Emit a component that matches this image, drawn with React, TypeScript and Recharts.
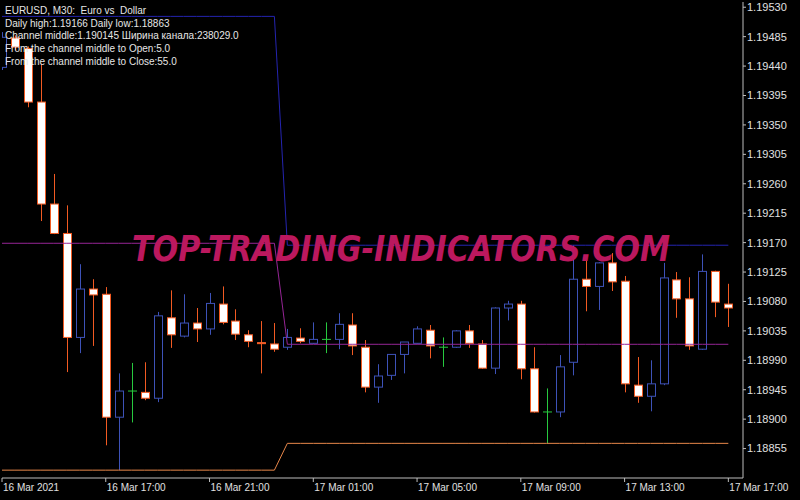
import { Bar, ComposedChart, Line, XAxis, YAxis } from 'recharts';

// EURUSD M30, bars from 16 Mar 13:00 to 17 Mar 17:00 (57 bars)
const opens = [
  1.19438, 1.19483, 1.19467, 1.19385, 1.19229, 1.19184, 1.19025, 1.19099, 1.19091, 1.18903,
  1.18943, 1.18941, 1.18932, 1.19055, 1.19027, 1.19047, 1.19038, 1.19076, 1.19050, 1.19029,
  1.19017, 1.19015, 1.19010, 1.19024, 1.19016, 1.19022, 1.19022, 1.19044, 1.19010, 1.18949,
  1.18967, 1.18999, 1.19016, 1.19036, 1.19010, 1.19010, 1.19035, 1.19015, 1.18978, 1.19070,
  1.19076, 1.18977, 1.18911, 1.18911, 1.18987, 1.19114, 1.19103, 1.19139, 1.19111, 1.18952,
  1.18935, 1.18954, 1.19113, 1.19084, 1.19007, 1.19126, 1.19076,
];
const highs = [
  1.19492, 1.19487, 1.19470, 1.19444, 1.19275, 1.19227, 1.19137, 1.19114, 1.19102, 1.18970,
  1.18986, 1.18987, 1.19064, 1.19097, 1.19091, 1.19070, 1.19093, 1.19103, 1.19068, 1.19036,
  1.19050, 1.19047, 1.19038, 1.19039, 1.19048, 1.19048, 1.19062, 1.19062, 1.19021, 1.18984,
  1.18999, 1.19018, 1.19042, 1.19044, 1.19025, 1.19036, 1.19044, 1.19021, 1.19071, 1.19081,
  1.19081, 1.19010, 1.18947, 1.18998, 1.19166, 1.19142, 1.19140, 1.19154, 1.19119, 1.18995,
  1.18990, 1.19139, 1.19125, 1.19117, 1.19152, 1.19127, 1.19107,
];
const lows = [
  1.19434, 1.19464, 1.19377, 1.19203, 1.19183, 1.18972, 1.19001, 1.19012, 1.18860, 1.18822,
  1.18895, 1.18929, 1.18926, 1.19009, 1.19025, 1.19018, 1.19029, 1.19045, 1.19021, 1.19010,
  1.18970, 1.19003, 1.19006, 1.19016, 1.19015, 1.19001, 1.19007, 1.18998, 1.18941, 1.18925,
  1.18960, 1.18970, 1.19016, 1.18993, 1.18980, 1.19009, 1.19009, 1.18977, 1.18969, 1.19051,
  1.18961, 1.18910, 1.18863, 1.18903, 1.18967, 1.19065, 1.19067, 1.19096, 1.18941, 1.18925,
  1.18912, 1.18952, 1.19055, 1.19006, 1.19006, 1.19056, 1.19041,
];
const closes = [
  1.19484, 1.19469, 1.19385, 1.19229, 1.19184, 1.19025, 1.19099, 1.19090, 1.18903, 1.18943,
  1.18943, 1.18932, 1.19058, 1.19029, 1.19047, 1.19038, 1.19077, 1.19048, 1.19030, 1.19019,
  1.19016, 1.19007, 1.19025, 1.19019, 1.19022, 1.19022, 1.19045, 1.19012, 1.18949, 1.18966,
  1.18999, 1.19018, 1.19038, 1.19012, 1.19010, 1.19035, 1.19016, 1.18978, 1.19070, 1.19076,
  1.18977, 1.18911, 1.18911, 1.18980, 1.19114, 1.19103, 1.19139, 1.19110, 1.18954, 1.18935,
  1.18954, 1.19116, 1.19084, 1.19012, 1.19126, 1.19079, 1.19070,
];

// daily channel (16 Mar, 17 Mar) and the bar where each day starts
const dayHighs = [1.19516, 1.19166];
const dayLows = [1.18822, 1.18863];
const dayStarts = [0, 22];

const priceTicks = [
  1.18855, 1.189, 1.18945, 1.1899, 1.19035, 1.1908, 1.19125, 1.1917,
  1.19215, 1.1926, 1.19305, 1.1935, 1.19395, 1.1944, 1.19485, 1.1953,
];
const timeTicks = [0, 8, 16, 24, 32, 40, 48, 56];
const timeLabels = [
  '16 Mar 2021', '16 Mar 17:00', '16 Mar 21:00', '17 Mar 01:00',
  '17 Mar 05:00', '17 Mar 09:00', '17 Mar 13:00', '17 Mar 17:00',
];

const infoLines = [
  'EURUSD, M30:  Euro vs  Dollar',
  'Daily high:1.19166 Daily low:1.18863',
  'Channel middle:1.190145 Ширина канала:238029.0',
  'From the channel middle to Open:5.0',
  'From the channel middle to Close:55.0',
];

const BULL = '#3d52b8';
const BEAR = '#f25a22';
const DOJI = '#27c93f';
const FRAME = '#bdbdbd';
const FONT = '"Liberation Sans", Arial, sans-serif';

const data = opens.map((open, i) => {
  const day = i >= dayStarts[1] ? 1 : 0;
  return {
    i,
    open,
    high: highs[i],
    low: lows[i],
    close: closes[i],
    dayHigh: dayHighs[day],
    dayLow: dayLows[day],
    dayMid: (dayHighs[day] + dayLows[day]) / 2,
  };
});

// candle drawn inside the high-low range bar that recharts positions for us
function Candle(props: any) {
  const { x, y, width, height, payload } = props;
  const { open, close, high, low } = payload;
  const top = Math.min(y, y + height);
  const span = Math.abs(height);
  const toY = (p: number) => top + ((high - p) / (high - low || 1)) * span;
  const cx = Math.round(x + width / 2) + 0.5;
  const yo = toY(open);
  const yc = toY(close);

  if (open === close) {
    return (
      <g>
        <line x1={cx} x2={cx} y1={top} y2={top + span} stroke={DOJI} />
        <line x1={cx - 4.5} x2={cx + 4.5} y1={yo} y2={yo} stroke={DOJI} />
      </g>
    );
  }
  const bull = close > open;
  const color = bull ? BULL : BEAR;
  return (
    <g>
      <line x1={cx} x2={cx} y1={top} y2={top + span} stroke={color} />
      <rect
        x={cx - 4}
        y={Math.min(yo, yc)}
        width={8}
        height={Math.max(Math.abs(yc - yo), 1)}
        fill={bull ? '#000' : '#fff'}
        stroke={color}
      />
    </g>
  );
}

function TimeTick({ x, y, payload }: any) {
  return (
    <text x={x + 1} y={y} dy="0.71em" fill="#e0e0e0" fontSize={10} fontFamily={FONT} textAnchor="start">
      {timeLabels[timeTicks.indexOf(payload.value)]}
    </text>
  );
}

export default function App() {
  return (
    <div style={{ position: 'absolute', left: 0, top: 0, width: 800, height: 500, background: '#000' }}>
      <ComposedChart width={800} height={500} data={data} margin={{ top: 2, right: 0, bottom: 0, left: 2 }}>
        <XAxis
          dataKey="i"
          type="number"
          domain={[0, 57.13]}
          allowDataOverflow
          ticks={timeTicks}
          interval={0}
          height={22}
          tickSize={4}
          tickMargin={2}
          axisLine={{ stroke: FRAME }}
          tickLine={{ stroke: FRAME }}
          tick={<TimeTick />}
        />
        <XAxis xAxisId="top" orientation="top" type="number" domain={[0, 1]} height={0} tick={false} tickLine={false} axisLine={{ stroke: FRAME }} />
        <YAxis
          orientation="right"
          domain={[1.1881, 1.19538]}
          allowDataOverflow
          ticks={priceTicks}
          interval={0}
          width={57}
          tickSize={3}
          tickMargin={1}
          axisLine={{ stroke: FRAME }}
          tickLine={{ stroke: FRAME }}
          tick={{ fill: '#e0e0e0', fontSize: 11, fontFamily: FONT }}
          tickFormatter={(v: number) => v.toFixed(5)}
        />
        <YAxis yAxisId="frame" orientation="left" type="number" domain={[0, 1]} width={0} tick={false} tickLine={false} axisLine={{ stroke: FRAME }} />
        <Bar dataKey={(d: any) => [d.low, d.high]} barSize={9} shape={<Candle />} isAnimationActive={false} />
        <Line dataKey="dayHigh" type="linear" stroke="#2424b0" strokeWidth={1} dot={false} activeDot={false} isAnimationActive={false} />
        <Line dataKey="dayMid" type="linear" stroke="#962596" strokeWidth={1} dot={false} activeDot={false} isAnimationActive={false} />
        <Line dataKey="dayLow" type="linear" stroke="#e8874a" strokeWidth={1} dot={false} activeDot={false} isAnimationActive={false} />
      </ComposedChart>
      <svg width={800} height={500} style={{ position: 'absolute', left: 0, top: 0, pointerEvents: 'none' }}>
        <g transform="translate(132 261) scale(1 1.29)">
          <text
            x={0}
            y={0}
            textLength={538}
            lengthAdjust="spacingAndGlyphs"
            fontFamily='"DejaVu Sans", sans-serif'
            fontWeight="bold"
            fontStyle="italic"
            fontSize={28}
            fill="#bb185e"
          >
            TOP-TRADING-INDICATORS.COM
          </text>
        </g>
        {infoLines.map((line, k) => (
          <text key={k} x={5} y={14 + k * 12.7} fill="#e6e6e6" fontSize={10} fontFamily={FONT} style={{ whiteSpace: 'pre' }}>
            {line}
          </text>
        ))}
      </svg>
    </div>
  );
}
